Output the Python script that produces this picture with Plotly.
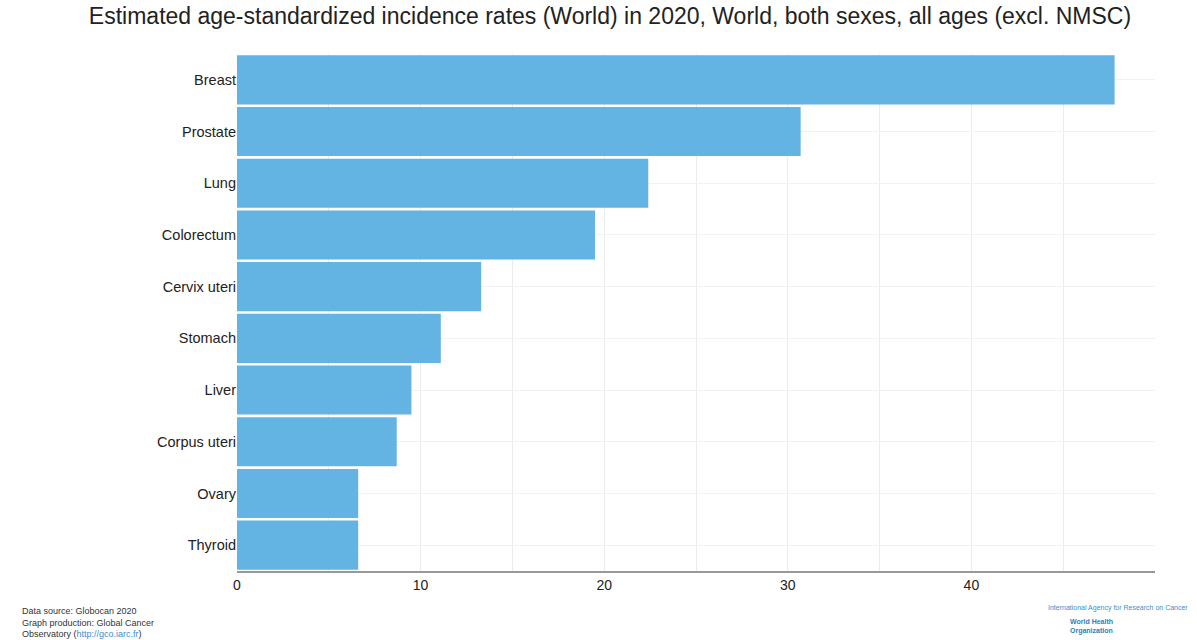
import plotly.graph_objects as go

# Estimated age-standardized incidence rates (World), 2020, both sexes
cancers = ["Breast", "Prostate", "Lung", "Colorectum", "Cervix uteri",
           "Stomach", "Liver", "Corpus uteri", "Ovary", "Thyroid"]
asr_rates = [47.8, 30.7, 22.4, 19.5, 13.3, 11.1, 9.5, 8.7, 6.6, 6.6]
tick_values = [0, 10, 20, 30, 40]

GRID = "#ececec"
W, H = 1197, 640

fig = go.Figure(
    go.Bar(
        x=asr_rates,
        y=cancers,
        orientation="h",
        marker=dict(color="#63b3e3", line=dict(width=0)),
        hovertemplate="%{y}: %{x}<extra></extra>",
    )
)

fig.update_layout(
    width=W,
    height=H,
    margin=dict(l=237, r=42, t=54, b=69),
    paper_bgcolor="white",
    plot_bgcolor="white",
    font=dict(family="Liberation Sans, Arial, sans-serif", color="#222"),
    bargap=0.05,
    showlegend=False,
    title=dict(
        text="Estimated age-standardized incidence rates (World) in 2020, World, both sexes, all ages (excl. NMSC)",
        x=610 / W, xref="container", y=1 - 16 / H, yref="container",
        xanchor="center", yanchor="middle",
        font=dict(size=23, color="#222"),
    ),
)

fig.update_xaxes(
    range=[0, 50],
    tickvals=tick_values,
    ticktext=[str(v) for v in tick_values],
    showgrid=True, gridcolor=GRID, gridwidth=1,
    minor=dict(dtick=5, showgrid=True, gridcolor=GRID, gridwidth=1),
    showline=True, linecolor="#999", linewidth=2,
    tickfont=dict(size=14, color="#222"),
    ticks="", zeroline=False,
)

fig.update_yaxes(
    categoryorder="array",
    categoryarray=cancers[::-1],
    showgrid=True, gridcolor="#f2f2f2", gridwidth=1,
    showline=False,
    tickfont=dict(size=14.5, color="#222"),
    ticks="", ticklen=4,
)

# Footer: data source on the left, agency credit on the right
fig.add_annotation(
    text="Data source: Globocan 2020<br>Graph production: Global Cancer<br>Observatory (<span style='color:#3a8fd0'>http://gco.iarc.fr</span>)",
    xref="paper", yref="paper", x=(20 - 237) / 918, y=-(604 - 571) / 517,
    xanchor="left", yanchor="top", align="left", showarrow=False,
    font=dict(size=9, color="#333"),
)
fig.add_annotation(
    text="International Agency for Research on Cancer",
    xref="paper", yref="paper", x=(1046 - 237) / 918, y=-(602 - 571) / 517,
    xanchor="left", yanchor="top", align="left", showarrow=False,
    font=dict(size=7, color="#3a8fd0"),
)
fig.add_annotation(
    text="<b>World Health<br>Organization</b>",
    xref="paper", yref="paper", x=(1068 - 237) / 918, y=-(616 - 571) / 517,
    xanchor="left", yanchor="top", align="left", showarrow=False,
    font=dict(size=7, color="#2a7fc0"),
)

fig.write_html("out.html")
